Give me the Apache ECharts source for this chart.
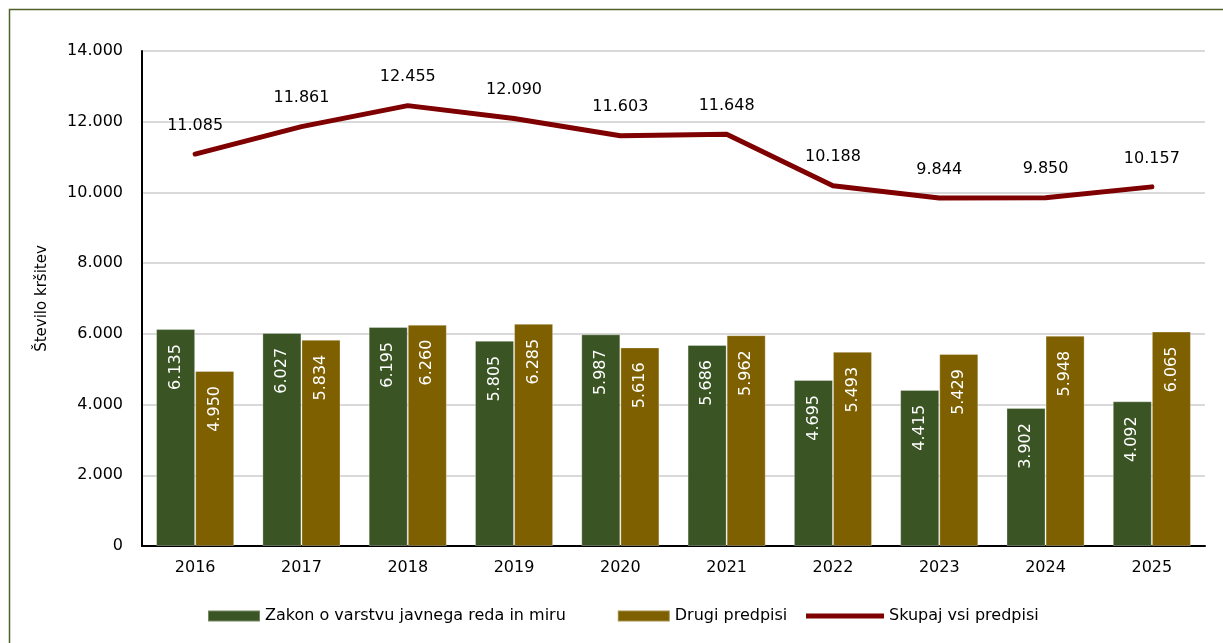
<!DOCTYPE html>
<html>
<head>
<meta charset="utf-8">
<script src="https://cdn.jsdelivr.net/npm/echarts@6/dist/echarts.min.js"></script>
<style>
html,body{margin:0;padding:0;background:#fff;}
#c{width:1223px;height:643px;}
</style>
</head>
<body>
<div id="c"></div>
<script>
const years = ['2016','2017','2018','2019','2020','2021','2022','2023','2024','2025'];
const zakon = [6135, 6027, 6195, 5805, 5987, 5686, 4695, 4415, 3902, 4092];
const drugi = [4950, 5834, 6260, 6285, 5616, 5962, 5493, 5429, 5948, 6065];
const skupaj = [11085, 11861, 12455, 12090, 11603, 11648, 10188, 9844, 9850, 10157];
const seriesNames = ['Zakon o varstvu javnega reda in miru', 'Drugi predpisi', 'Skupaj vsi predpisi'];
const yAxisName = 'Število kršitev';

const FONT = 'DejaVu Sans';
function fmt(v){
  return String(v).replace(/\B(?=(\d{3})+(?!\d))/g, '.');
}

const chart = echarts.init(document.getElementById('c'));
chart.setOption({
  animation: false,
  textStyle: {fontFamily: FONT},
  graphic: [{
    type: 'rect',
    shape: {x: 9.5, y: 9.5, width: 1300, height: 700},
    style: {fill: 'none', stroke: '#4F6228', lineWidth: 1.5},
    silent: true, z: -10
  }],
  grid: {left: 142, right: 18, top: 51, bottom: 97},
  legend: [{
    data: [seriesNames[0], seriesNames[1]],
    left: 202, top: 603,
    itemWidth: 52, itemHeight: 11, itemGap: 51,
    icon: 'rect',
    textStyle: {fontFamily: FONT, fontSize: 16, color: '#000'}
  }, {
    data: [{name: seriesNames[2], icon: 'rect', itemStyle: {color: '#7F0000'}}],
    left: 801, top: 603,
    itemWidth: 78, itemHeight: 5,
    textStyle: {fontFamily: FONT, fontSize: 16, color: '#000'}
  }],
  xAxis: {
    type: 'category',
    data: years,
    axisLine: {lineStyle: {color: '#000', width: 2}},
    axisTick: {alignWithLabel: true, length: 5, lineStyle: {color: '#000', width: 2}},
    axisLabel: {color: '#000', fontSize: 16, fontFamily: FONT, margin: 14}
  },
  yAxis: {
    type: 'value',
    min: 0, max: 14000, interval: 2000,
    name: yAxisName,
    nameLocation: 'middle',
    nameGap: 92,
    nameRotate: 90,
    nameTextStyle: {color: '#000', fontSize: 15, fontFamily: FONT},
    axisLine: {show: true, lineStyle: {color: '#000', width: 2}},
    axisTick: {show: false},
    splitLine: {lineStyle: {color: '#D9D9D9', width: 2}},
    axisLabel: {color: '#000', fontSize: 16, fontFamily: FONT, margin: 19, formatter: v => fmt(v)}
  },
  series: [{
    name: seriesNames[0],
    type: 'bar',
    data: zakon,
    barGap: '0%',
    barCategoryGap: '26.5%',
    itemStyle: {color: '#3A5424', borderColor: 'rgba(255,255,255,0.3)', borderWidth: 1},
    label: {
      show: true, position: 'insideTop', rotate: 90, align: 'right', verticalAlign: 'middle',
      distance: 15, color: '#fff', fontSize: 16, fontFamily: FONT,
      formatter: p => fmt(p.value)
    }
  }, {
    name: seriesNames[1],
    type: 'bar',
    data: drugi,
    itemStyle: {color: '#7F6000', borderColor: 'rgba(255,255,255,0.3)', borderWidth: 1},
    label: {
      show: true, position: 'insideTop', rotate: 90, align: 'right', verticalAlign: 'middle',
      distance: 15, color: '#fff', fontSize: 16, fontFamily: FONT,
      formatter: p => fmt(p.value)
    }
  }, {
    name: seriesNames[2],
    type: 'line',
    data: skupaj,
    symbol: 'circle',
    symbolSize: 1,
    showSymbol: true,
    lineStyle: {color: '#7F0000', width: 5, cap: 'round', join: 'round'},
    itemStyle: {color: '#7F0000'},
    label: {
      show: true, position: 'top', distance: 20, color: '#000', fontSize: 16, fontFamily: FONT,
      formatter: p => fmt(p.value)
    },
    z: 5
  }]
});
</script>
</body>
</html>
